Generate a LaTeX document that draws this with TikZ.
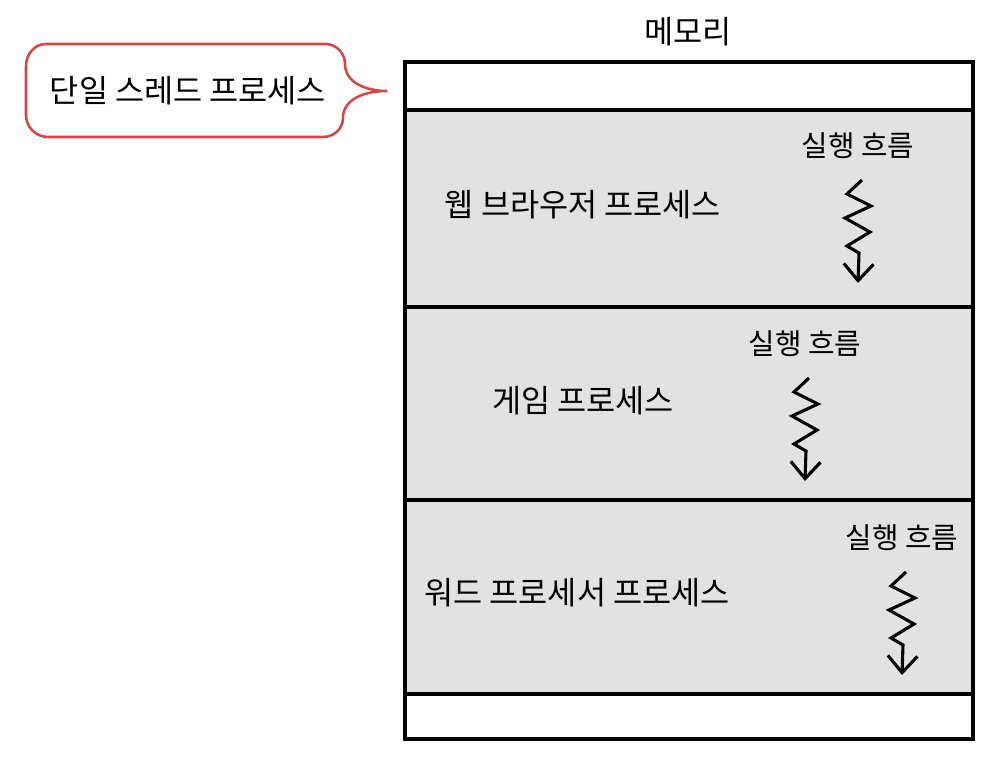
\documentclass[tikz,border=0pt]{standalone}
\usepackage{fontspec}
\setmainfont{Noto Sans CJK KR}
\usetikzlibrary{arrows.meta,calc,positioning}
\definecolor{bandgray}{RGB}{226,226,226}
\definecolor{calloutred}{RGB}{210,72,72}
\tikzset{
  lbl/.style={font=\fontsize{22.5}{26}\selectfont},
  flowlbl/.style={font=\fontsize{20.5}{24}\selectfont},
  zig/.style={line width=2.2pt,line join=miter,-{Straight Barb[length=4.2mm,width=7.4mm,line width=2.2pt]}},
  memline/.style={line width=2.4pt},
  callout/.style={draw=calloutred,line width=1.8pt}
}
\begin{document}
\begin{tikzpicture}[x=0.025cm,y=-0.025cm]
\useasboundingbox (0,0) rectangle (1008,773);
% memory
\node[lbl] (memtitle) at (688,32) {메모리};
\fill[bandgray] (405,110) rectangle (973,694);
\draw[memline] (405,110) -- (973,110);
\draw[memline] (405,307) -- (973,307);
\draw[memline] (405,500) -- (973,500);
\draw[memline] (405,694) -- (973,694);
\draw[line width=2.6pt] (405,62) rectangle (973,739);
% callout
\path[callout] (46,44) -- (325,44) to[out=0,in=90] (345,64)
  to[out=270,in=180] (387,91)
  to[out=180,in=90] (343,118)
  to[out=270,in=0] (323,137) -- (48,137)
  to[out=180,in=270] (26,115) -- (26,66)
  to[out=90,in=180] cycle;
\node[lbl] (single) at (188,91) {단일 스레드 프로세스};
% processes
\node[lbl] (web) at (583,205) {웹 브라우저 프로세스};
\node[lbl] (game) at (583,401) {게임 프로세스};
\node[lbl] (word) at (577,593) {워드 프로세서 프로세스};
\node[flowlbl] (flow1) at (858,146) {실행 흐름};
\node[flowlbl] (flow2) at (805,344) {실행 흐름};
\node[flowlbl] (flow3) at (902,538) {실행 흐름};
\coordinate (z1) at ($(flow1)+(4,34)$);
\coordinate (z2) at ($(flow2)+(4,34)$);
\coordinate (z3) at ($(flow3)+(4,34)$);
\draw[zig] (z1) -- ++(-15,14) -- ++(24,12) -- ++(-26,12) -- ++(25,14) -- ++(-23,14) -- ++(12,7) -- ++(-1,30);
\draw[zig] (z2) -- ++(-15,14) -- ++(24,12) -- ++(-26,12) -- ++(25,14) -- ++(-23,14) -- ++(12,7) -- ++(-1,30);
\draw[zig] (z3) -- ++(-15,14) -- ++(24,12) -- ++(-26,12) -- ++(25,14) -- ++(-23,14) -- ++(12,7) -- ++(-1,30);
\end{tikzpicture}
\end{document}
